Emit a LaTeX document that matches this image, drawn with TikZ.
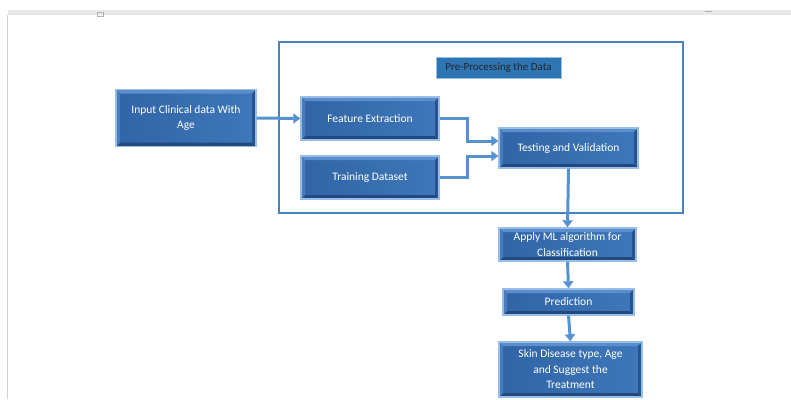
\documentclass[tikz,border=0pt]{standalone}
\usepackage{fontspec}
\setmainfont{Carlito}
\usepackage{tikz}
\usetikzlibrary{arrows.meta,positioning,calc}
\definecolor{faceblue}{RGB}{48,100,166}
\definecolor{facelight}{RGB}{62,120,186}
\definecolor{bevel}{RGB}{150,190,232}
\definecolor{bevtop}{RGB}{92,142,204}
\definecolor{bevleft}{RGB}{74,124,188}
\definecolor{bevright}{RGB}{40,84,142}
\definecolor{bevbottom}{RGB}{34,74,128}
\definecolor{flowblue}{RGB}{84,146,210}
\definecolor{frameblue}{RGB}{72,130,192}
\definecolor{labelblue}{RGB}{46,117,182}

\begin{document}
\begin{tikzpicture}[x=1pt,y=-1pt,
  stepbox/.style={rectangle,draw=bevel,line width=1.4pt,left color=faceblue,right color=facelight,
    text=white,align=center,font=\fontsize{11.5}{15.5}\selectfont,inner sep=2pt,
    path picture={
      \coordinate (nw) at (path picture bounding box.north west);
      \coordinate (ne) at (path picture bounding box.north east);
      \coordinate (sw) at (path picture bounding box.south west);
      \coordinate (se) at (path picture bounding box.south east);
      \fill[bevtop] (nw) -- (ne) -- ([shift={(-4pt,-4pt)}]ne) -- ([shift={(4pt,-4pt)}]nw) -- cycle;
      \fill[bevbottom] (sw) -- (se) -- ([shift={(-4pt,4pt)}]se) -- ([shift={(4pt,4pt)}]sw) -- cycle;
      \fill[bevleft] (nw) -- (sw) -- ([shift={(4pt,4pt)}]sw) -- ([shift={(4pt,-4pt)}]nw) -- cycle;
      \fill[bevright] (ne) -- (se) -- ([shift={(-4pt,4pt)}]se) -- ([shift={(-4pt,-4pt)}]ne) -- cycle;
    }},
  flow/.style={flowblue,line width=3pt,-{Triangle[length=7pt,width=10pt]}}]
  \useasboundingbox (0,0) rectangle (791,399);
  % screenshot frame
  \fill[gray!18] (8,10) rectangle (791,15);
  \draw[gray!35,line width=0.8pt] (7.5,15) -- (7.5,399);
  \draw[gray!60,line width=0.6pt] (97,12) rectangle (103,16);
  \draw[gray!60,line width=0.8pt] (705,11) -- (712,11);
  % container
  \draw[frameblue,line width=1.6pt] (279,42) rectangle (683,213);
  \node[rectangle,fill=labelblue,draw=bevel,line width=0.6pt,text=black!85,
    minimum width=125pt,minimum height=21pt,inner sep=1pt,font=\fontsize{11}{12}\selectfont]
    (preproc) at (498.5,67.5) {Pre-Processing the Data};
  % boxes
  \node[stepbox,minimum width=140pt,minimum height=57pt] (input) at (186,118) {Input Clinical data With\\Age};
  \node[stepbox,minimum width=138pt,minimum height=43pt] (feature) at (370,118.5) {Feature Extraction};
  \node[stepbox,minimum width=138pt,minimum height=43pt] (training) at (370,177.5) {Training Dataset};
  \node[stepbox,minimum width=139pt,minimum height=40pt] (testing) at (568.5,148) {Testing and Validation};
  \node[stepbox,minimum width=137pt,minimum height=33pt] (applyml) at (567.5,244.5) {Apply ML algorithm for\\Classification};
  \node[stepbox,minimum width=131pt,minimum height=26pt] (prediction) at (568.5,302) {Prediction};
  \node[stepbox,minimum width=143pt,minimum height=55pt] (result) at (570.5,369.5) {Skin Disease type, Age\\and Suggest the\\Treatment};
  % connectors
  \draw[flow] (input.east) -- (feature.west);
  \draw[flow] (feature.east) -- ++(28,0) |- ([yshift=7pt]testing.west);
  \draw[flow] (training.east) -- ++(28,0) |- ([yshift=-8pt]testing.west);
  \draw[flow] (testing.south) -- (applyml.north);
  \draw[flow] (applyml.south) -- (prediction.north);
  \draw[flow] (prediction.south) -- (result.north);
\end{tikzpicture}
\end{document}
